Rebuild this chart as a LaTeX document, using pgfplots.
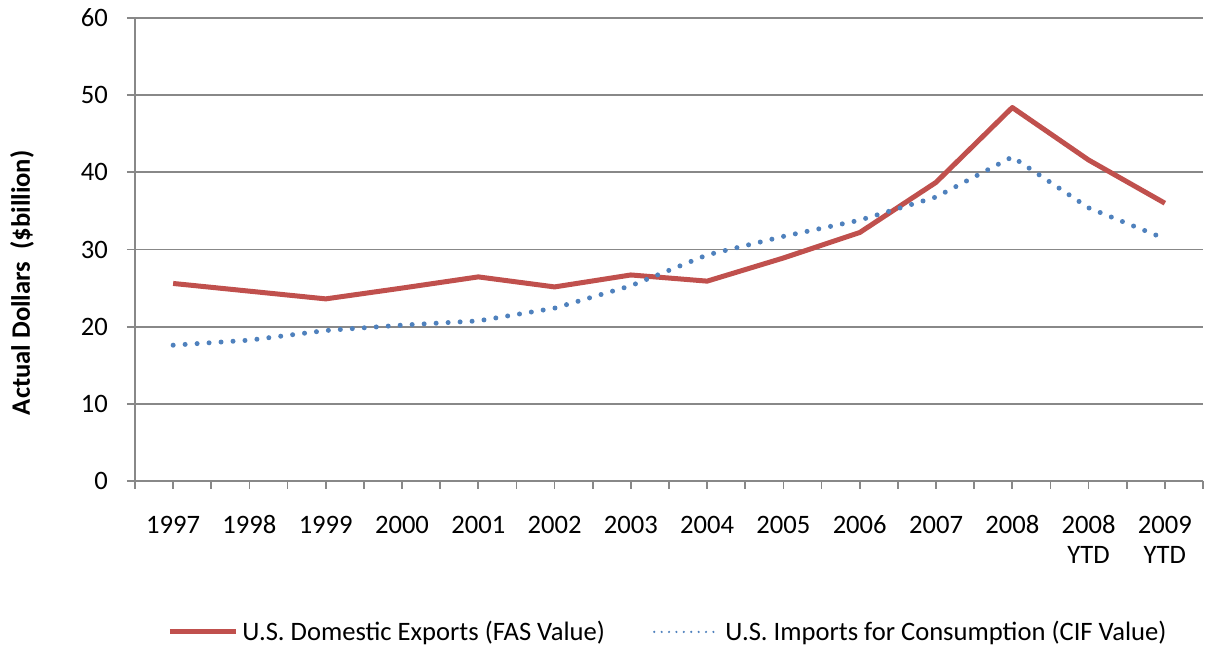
\documentclass[border=0pt]{standalone}
\usepackage{pgfplots}
\pgfplotsset{compat=1.18}
\usepackage{fontspec}
\setmainfont{Carlito}

\definecolor{expred}{HTML}{C0504D}
\definecolor{impblue}{HTML}{4F81BD}
\definecolor{gridgray}{HTML}{888888}

\begin{document}
\begin{tikzpicture}
  \begin{axis}[
    scale only axis,
    width=534pt, height=231.5pt,
    xmin=-0.5, xmax=13.5,
    ymin=0, ymax=60,
    ytick={0,10,...,60},
    xtick={0,...,13},
    xticklabels={\strut 1997,\strut 1998,\strut 1999,\strut 2000,\strut 2001,\strut 2002,\strut 2003,\strut 2004,\strut 2005,\strut 2006,\strut 2007,\strut 2008,\strut 2008\\YTD,\strut 2009\\YTD},
    minor xtick={-0.5,0.5,...,13.5},
    axis x line*=bottom,
    axis y line*=left,
    axis line style={gridgray, line width=0.9pt},
    tick style={gridgray, line width=0.9pt},
    tick align=outside,
    major tick length=4pt,
    minor tick length=4pt,
    ymajorgrids,
    major grid style={gridgray, line width=0.9pt},
    font=\fontsize{13.3}{15}\selectfont,
    ticklabel style={font=\fontsize{13.3}{15}\selectfont, text=black},
    xticklabel style={align=center, yshift=-8pt},
    yticklabel style={xshift=-6pt},
    /pgf/number format/assume math mode=true,
    ylabel={\bfseries Actual Dollars \ (\$billion)},
    ylabel style={font=\fontsize{13.3}{15}\selectfont, at={(axis description cs:-0.088,0.428)}},
    legend columns=2,
    legend style={draw=none, at={(0.5,-0.326)}, anchor=center,
      font=\fontsize{13.3}{15}\selectfont,
      /tikz/every even column/.append style={column sep=22pt}},
    legend image code/.code={\draw[#1] (0pt,0pt) -- (33pt,0pt);},
  ]
  \addplot[expred, line width=2.5pt, line join=round] coordinates {
    (0,25.6) (1,24.6) (2,23.6) (3,25.0) (4,26.45) (5,25.15) (6,26.7)
    (7,25.9) (8,28.9) (9,32.2) (10,38.7) (11,48.4) (12,41.6) (13,36.0)
  };
  \addlegendentry{U.S. Domestic Exports (FAS Value)}
  \addplot[impblue, line width=2.5pt, line cap=round, dash pattern=on 0pt off 6pt,
    legend image code/.code={\draw[impblue, line width=1.2pt, line cap=round,
      dash pattern=on 0pt off 3.7pt] (0pt,0pt) -- (33pt,0pt);}] coordinates {
    (0,17.6) (1,18.25) (2,19.5) (3,20.2) (4,20.75) (5,22.4) (6,25.3)
    (7,29.3) (8,31.7) (9,33.8) (10,36.8) (11,42.0) (12,35.4) (13,31.4)
  };
  \addlegendentry{U.S. Imports for Consumption (CIF Value)}
  \coordinate (A) at (rel axis cs:0,0);
  \coordinate (B) at (rel axis cs:1,1);
  \end{axis}
  \pgfresetboundingbox
  \path ([shift={(-67.5pt,-82pt)}]A) rectangle ([shift={(3pt,9pt)}]B);
\end{tikzpicture}
\end{document}
